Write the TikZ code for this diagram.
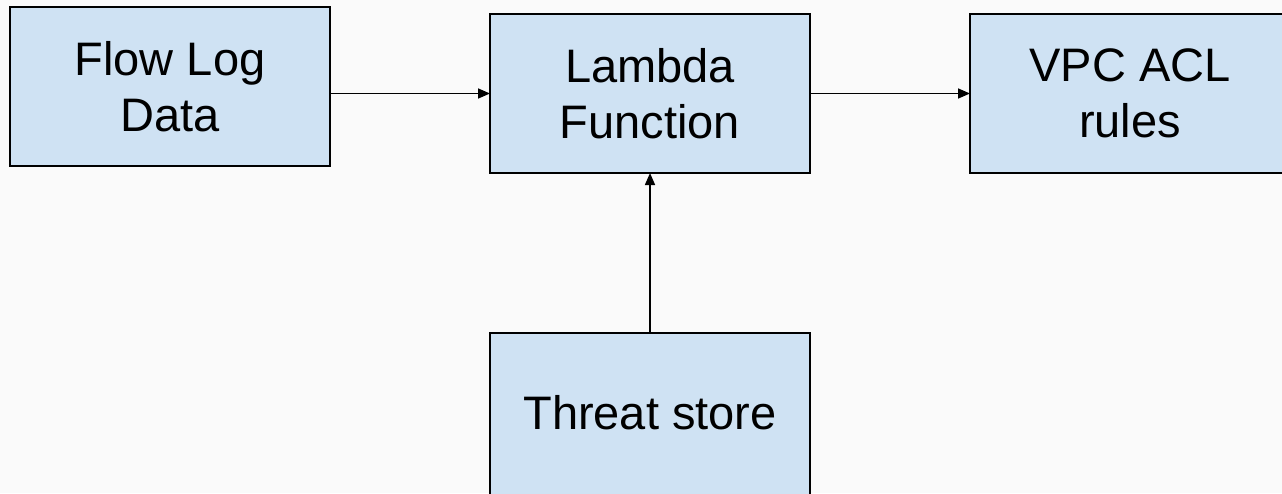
\documentclass[tikz,border=0pt]{standalone}
\usepackage{fontspec}
\setmainfont{Liberation Sans}
\usetikzlibrary{arrows.meta}
\definecolor{bg}{HTML}{FAFAFA}
\definecolor{boxfill}{HTML}{CFE2F3}
\begin{document}
\begin{tikzpicture}[x=1pt,y=-1pt,
  box/.style={draw=black, line width=2pt, fill=boxfill, align=center,
    minimum width=320pt, minimum height=159pt, inner sep=0pt, outer sep=0pt,
    font=\fontsize{47}{56}\selectfont},
  conn/.style={line width=1.6pt, -{Triangle[length=12pt,width=10pt]}}]
\fill[bg] (0,0) rectangle (1282,493);
\useasboundingbox (0,0) rectangle (1282,493);
\begin{scope}
\clip (0,0) rectangle (1282,493);
\node[box] (flow) at (170,86.5) {Flow Log\\Data};
\node[box] (lambda) at (650,93.5) {Lambda\\Function};
\node[box] (vpc) at (1130,93.5) {VPC ACL\\rules};
\node[box, minimum height=175pt] (threat) at (650,420.5) {};
\node[font=\fontsize{47}{56}\selectfont] (threatlabel) at (650,413) {Threat store};
\end{scope}
\draw[conn] (flow.east |- lambda.west) -- (lambda.west);
\draw[conn] (lambda.east) -- (vpc.west);
\draw[conn] (threat.north) -- (lambda.south);
\end{tikzpicture}
\end{document}
